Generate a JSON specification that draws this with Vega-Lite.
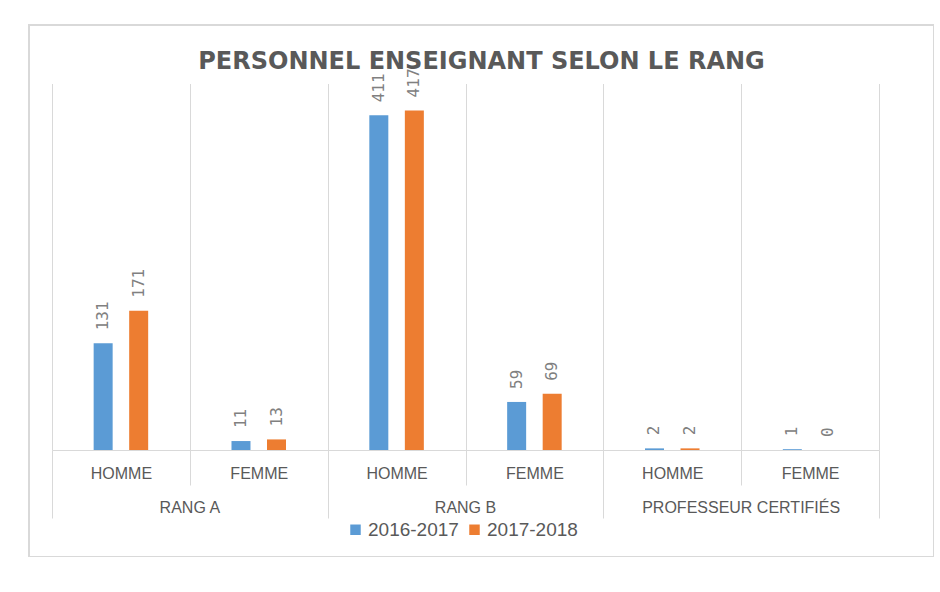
{
  "$schema": "https://vega.github.io/schema/vega-lite/v6.json",
  "width": 905,
  "height": 532,
  "autosize": {"type": "none"},
  "padding": {"left": 29, "top": 25, "right": 0, "bottom": 0},
  "background": "white",
  "title": {
    "text": "PERSONNEL ENSEIGNANT SELON LE RANG",
    "font": "DejaVu Sans",
    "fontSize": 24,
    "fontWeight": "bold",
    "color": "#595959",
    "anchor": "middle",
    "offset": -49
  },
  "config": {
    "view": {"stroke": "#d9d9d9", "strokeWidth": 2}
  },
  "data": {
    "values": [
      {"rang": "RANG A", "sexe": "HOMME", "cle": "RANG A|HOMME", "annee": "2016-2017", "effectif": 131},
      {"rang": "RANG A", "sexe": "HOMME", "cle": "RANG A|HOMME", "annee": "2017-2018", "effectif": 171},
      {"rang": "RANG A", "sexe": "FEMME", "cle": "RANG A|FEMME", "annee": "2016-2017", "effectif": 11},
      {"rang": "RANG A", "sexe": "FEMME", "cle": "RANG A|FEMME", "annee": "2017-2018", "effectif": 13},
      {"rang": "RANG B", "sexe": "HOMME", "cle": "RANG B|HOMME", "annee": "2016-2017", "effectif": 411},
      {"rang": "RANG B", "sexe": "HOMME", "cle": "RANG B|HOMME", "annee": "2017-2018", "effectif": 417},
      {"rang": "RANG B", "sexe": "FEMME", "cle": "RANG B|FEMME", "annee": "2016-2017", "effectif": 59},
      {"rang": "RANG B", "sexe": "FEMME", "cle": "RANG B|FEMME", "annee": "2017-2018", "effectif": 69},
      {"rang": "PROFESSEUR CERTIFIÉS", "sexe": "HOMME", "cle": "PROFESSEUR CERTIFIÉS|HOMME", "annee": "2016-2017", "effectif": 2},
      {"rang": "PROFESSEUR CERTIFIÉS", "sexe": "HOMME", "cle": "PROFESSEUR CERTIFIÉS|HOMME", "annee": "2017-2018", "effectif": 2},
      {"rang": "PROFESSEUR CERTIFIÉS", "sexe": "FEMME", "cle": "PROFESSEUR CERTIFIÉS|FEMME", "annee": "2016-2017", "effectif": 1},
      {"rang": "PROFESSEUR CERTIFIÉS", "sexe": "FEMME", "cle": "PROFESSEUR CERTIFIÉS|FEMME", "annee": "2017-2018", "effectif": 0}
    ]
  },
  "layer": [
    {
      "mark": {"type": "bar", "opacity": 0},
      "encoding": {
        "x": {
          "field": "cle",
          "type": "nominal",
          "sort": ["RANG A|HOMME", "RANG A|FEMME", "RANG B|HOMME", "RANG B|FEMME", "PROFESSEUR CERTIFIÉS|HOMME", "PROFESSEUR CERTIFIÉS|FEMME"],
          "scale": {"range": [23, 850], "paddingInner": 0, "paddingOuter": 0},
          "axis": {
            "title": null,
            "orient": "bottom",
            "offset": -107,
            "tickBand": "extent",
            "grid": false,
            "domain": false,
            "labels": false,
            "ticks": true,
            "tickColor": "#d9d9d9",
            "tickWidth": 1,
            "tickSize": -366.5
          }
        },
        "y": {
          "field": "effectif",
          "type": "quantitative",
          "stack": null,
          "scale": {"domain": [0, 450], "range": [425, 58.5], "nice": false},
          "axis": null
        }
      }
    },
    {
      "encoding": {
        "x": {
          "field": "cle",
          "type": "nominal",
          "sort": ["RANG A|HOMME", "RANG A|FEMME", "RANG B|HOMME", "RANG B|FEMME", "PROFESSEUR CERTIFIÉS|HOMME", "PROFESSEUR CERTIFIÉS|FEMME"],
          "scale": {"range": [23, 850], "paddingInner": 0, "paddingOuter": 0},
          "axis": {
            "title": null,
            "orient": "bottom",
            "offset": -107,
            "tickBand": "extent",
            "grid": false,
            "domainColor": "#d9d9d9",
            "domainWidth": 1,
            "tickColor": "#d9d9d9",
            "tickWidth": 1,
            "tickSize": {"condition": {"test": "!!datum.extra || datum.index < 0 || indexof('' + datum.value, 'FEMME') >= 0", "value": 68}, "value": 35},
            "labelPadding": {"condition": {"test": "!!datum.extra || datum.index < 0 || indexof('' + datum.value, 'FEMME') >= 0", "value": -52.5}, "value": -19.5},
            "labelExpr": "indexof('' + datum.value, 'FEMME') >= 0 ? 'FEMME' : (indexof('' + datum.value, 'HOMME') >= 0 ? 'HOMME' : '')",
            "labelAngle": 0,
            "labelBaseline": "top",
            "labelFont": "Liberation Sans",
            "labelFontSize": 16,
            "labelColor": "#595959"
          }
        },
        "xOffset": {
          "field": "annee",
          "type": "nominal",
          "scale": {"paddingInner": 0.12, "paddingOuter": 1}
        },
        "y": {
          "field": "effectif",
          "type": "quantitative",
          "stack": null,
          "scale": {"domain": [0, 450], "range": [425, 58.5], "nice": false},
          "axis": null
        }
      },
      "layer": [
        {
          "mark": {"type": "bar", "width": 19},
          "encoding": {
            "color": {
              "field": "annee",
              "type": "nominal",
              "scale": {"domain": ["2016-2017", "2017-2018"], "range": ["#5b9bd5", "#ed7d31"]},
              "legend": {
                "title": null,
                "orient": "none",
                "legendX": 317,
                "legendY": 495,
                "direction": "horizontal",
                "symbolType": "square",
                "symbolSize": 110,
                "symbolStrokeWidth": 0,
                "labelFont": "Liberation Sans",
                "labelFontSize": 19,
                "labelColor": "#595959",
                "labelOffset": 3,
                "columnPadding": 6,
                "padding": 0
              }
            }
          }
        },
        {
          "mark": {
            "type": "text",
            "angle": 270,
            "align": "left",
            "baseline": "middle",
            "dx": 13,
            "font": "DejaVu Sans Mono",
            "fontSize": 16,
            "color": "#808080"
          },
          "encoding": {
            "text": {"field": "effectif", "type": "quantitative"}
          }
        }
      ]
    },
    {
      "mark": {"type": "bar", "opacity": 0},
      "encoding": {
        "x": {
          "field": "rang",
          "type": "nominal",
          "sort": ["RANG A", "RANG B", "PROFESSEUR CERTIFIÉS"],
          "scale": {"range": [23, 850], "paddingInner": 0, "paddingOuter": 0},
          "axis": {
            "title": null,
            "orient": "bottom",
            "offset": -107,
            "ticks": false,
            "domain": false,
            "grid": false,
            "labelPadding": 49.5,
            "labelAngle": 0,
            "labelBaseline": "top",
            "labelLimit": 0,
            "labelFont": "Liberation Sans",
            "labelFontSize": 16,
            "labelColor": "#595959"
          }
        },
        "y": {
          "field": "effectif",
          "type": "quantitative",
          "stack": null,
          "scale": {"domain": [0, 450], "range": [425, 58.5], "nice": false},
          "axis": null
        }
      }
    }
  ],
  "resolve": {"scale": {"x": "independent"}, "axis": {"x": "independent"}}
}
